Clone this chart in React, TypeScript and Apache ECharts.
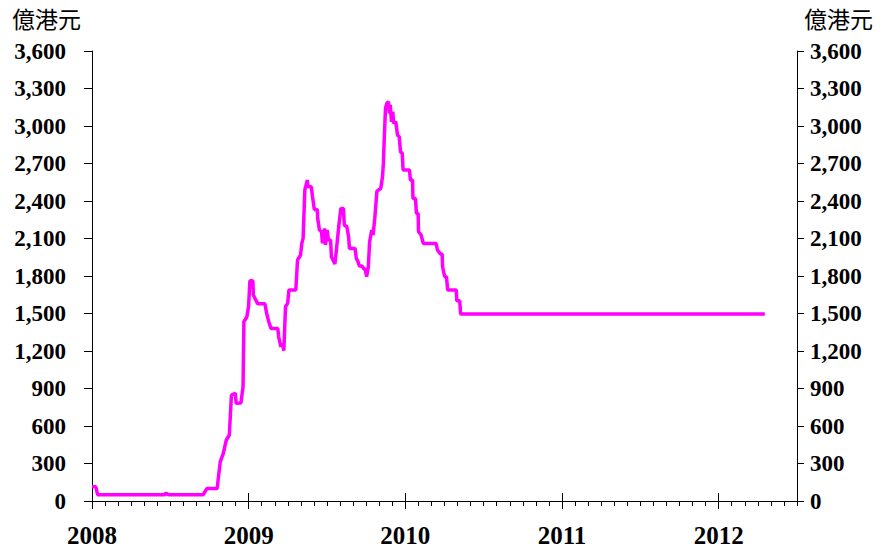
import React, { useEffect, useRef } from "react";
import * as echarts from "echarts";

// Aggregate balance (億港元)
const dates: string[] = [
  "2008-01-01", "2008-01-10", "2008-01-14", "2008-06-18", "2008-06-21", "2008-06-25", "2008-06-28",
  "2008-09-16", "2008-09-25", "2008-10-19", "2008-10-21", "2008-10-26", "2008-11-02", "2008-11-09",
  "2008-11-16", "2008-11-21", "2008-11-30", "2008-12-02", "2008-12-13", "2008-12-18", "2008-12-20",
  "2008-12-27", "2008-12-31", "2009-01-03", "2009-01-10", "2009-01-11", "2009-01-21", "2009-02-07",
  "2009-02-11", "2009-02-16", "2009-02-21", "2009-03-09", "2009-03-11", "2009-03-16", "2009-03-20",
  "2009-03-23", "2009-03-27", "2009-04-01", "2009-04-04", "2009-04-20", "2009-04-24", "2009-05-01",
  "2009-05-04", "2009-05-07", "2009-05-11", "2009-05-17", "2009-05-18", "2009-05-26", "2009-05-29",
  "2009-06-02", "2009-06-09", "2009-06-10", "2009-06-14", "2009-06-19", "2009-06-21", "2009-06-26",
  "2009-06-28", "2009-07-02", "2009-07-05", "2009-07-10", "2009-07-12", "2009-07-20", "2009-07-24",
  "2009-07-29", "2009-08-03", "2009-08-09", "2009-08-11", "2009-08-17", "2009-08-21", "2009-08-23",
  "2009-09-05", "2009-09-08", "2009-09-12", "2009-09-15", "2009-09-21", "2009-09-25", "2009-09-29",
  "2009-10-02", "2009-10-06", "2009-10-09", "2009-10-14", "2009-10-17", "2009-10-21", "2009-10-26",
  "2009-11-04", "2009-11-08", "2009-11-10", "2009-11-12", "2009-11-15", "2009-11-18", "2009-11-22",
  "2009-11-24", "2009-11-26", "2009-11-29", "2009-12-02", "2009-12-04", "2009-12-09", "2009-12-13",
  "2009-12-17", "2009-12-20", "2009-12-24", "2009-12-26", "2010-01-10", "2010-01-12", "2010-01-17",
  "2010-01-18", "2010-01-24", "2010-01-26", "2010-01-30", "2010-01-31", "2010-02-06", "2010-02-11",
  "2010-03-13", "2010-03-16", "2010-03-23", "2010-03-27", "2010-03-28", "2010-04-02", "2010-04-06",
  "2010-04-09", "2010-04-29", "2010-04-30", "2010-05-07", "2010-05-09", "2012-04-17",
];

const values: number[] = [
  114, 114, 50, 50, 62, 55, 50,
  50, 101, 101, 173, 315, 381, 488,
  528, 848, 862, 782, 784, 914, 1434,
  1474, 1560, 1762, 1762, 1648, 1578, 1578,
  1501, 1434, 1381, 1381, 1314, 1234, 1260,
  1202, 1554, 1581, 1688, 1688, 1928, 1968,
  2061, 2101, 2488, 2568, 2514, 2514, 2434,
  2333, 2333, 2261, 2168, 2154, 2061, 2181,
  2048, 2168, 2088, 2088, 1954, 1896, 2021,
  2194, 2341, 2341, 2208, 2194, 2114, 2021,
  2021, 1941, 1914, 1880, 1880, 1861, 1848,
  1794, 1874, 2074, 2168, 2128, 2261, 2478,
  2501, 2594, 2701, 2888, 3141, 3181, 3194,
  3101, 3168, 3034, 3114, 3021, 3034, 2928,
  2914, 2794, 2781, 2648, 2648, 2568, 2568,
  2421, 2421, 2301, 2301, 2154, 2128, 2061,
  2061, 2008, 1976, 1976, 1874, 1794, 1794,
  1688, 1688, 1602, 1602, 1496, 1496,
];

const yearLabels: string[] = ["2008", "2009", "2010", "2011", "2012"];
const monthCount = 54; // Jan 2008 .. Jul 2012
const unitLabel = "億港元";

const monthCats: string[] = Array.from({ length: monthCount + 1 }, (_, i) =>
  i % 12 === 0 ? yearLabels[i / 12] : ""
);

const FONT = "'Liberation Serif', 'Times New Roman', serif";

export default function App() {
  const ref = useRef<HTMLDivElement>(null);

  useEffect(() => {
    document.body.style.margin = "0";
    if (!ref.current) return;
    const chart = echarts.init(ref.current, undefined, { renderer: "svg" });

    const catAxisBase = {
      type: "category" as const,
      data: monthCats,
      boundaryGap: false,
      position: "bottom" as const,
      gridIndex: 0,
      axisLine: { show: false, onZero: false },
      splitLine: { show: false },
    };

    const yLabelStyle = {
      fontFamily: FONT,
      fontWeight: "bold" as const,
      fontSize: 23,
      color: "#000",
    };

    chart.setOption({
      animation: false,
      backgroundColor: "#fff",
      grid: {
        left: 92,
        right: 85,
        top: 51,
        bottom: 54,
        containLabel: false,
        outerBoundsMode: "none",
      },
      xAxis: [
        {
          type: "time",
          min: "2008-01-01",
          max: "2012-07-01",
          position: "bottom",
          axisLine: { show: true, onZero: false, lineStyle: { color: "#000", width: 1 } },
          axisTick: { show: false },
          axisLabel: { show: false },
          splitLine: { show: false },
        },
        {
          ...catAxisBase,
          axisTick: {
            show: true,
            interval: 0,
            length: 5,
            inside: false,
            lineStyle: { color: "#000", width: 1 },
          },
          axisLabel: { show: false },
        },
        {
          ...catAxisBase,
          axisTick: {
            show: true,
            interval: (i: number) => i % 12 === 0,
            length: 8,
            inside: false,
            lineStyle: { color: "#000", width: 1 },
          },
          axisLabel: {
            show: true,
            interval: (i: number) => i % 12 === 0,
            margin: 22,
            fontFamily: FONT,
            fontWeight: "bold",
            fontSize: 25,
            color: "#000",
          },
        },
        {
          ...catAxisBase,
          axisTick: {
            show: true,
            interval: (i: number) => i % 12 === 0,
            length: 8,
            inside: true,
            lineStyle: { color: "#000", width: 1 },
          },
          axisLabel: { show: false },
        },
      ],
      yAxis: [
        {
          type: "value",
          position: "left",
          min: 0,
          max: 3600,
          interval: 300,
          axisLine: { show: true, lineStyle: { color: "#000", width: 1 } },
          axisTick: { show: true, length: 8, lineStyle: { color: "#000", width: 1 } },
          axisLabel: {
            margin: 26,
            formatter: (v: number) => v.toLocaleString("en-US"),
            ...yLabelStyle,
          },
          splitLine: { show: false },
        },
        {
          type: "value",
          position: "right",
          min: 0,
          max: 3600,
          interval: 300,
          axisLine: { show: true, lineStyle: { color: "#000", width: 1 } },
          axisTick: { show: true, length: 7, lineStyle: { color: "#000", width: 1 } },
          axisLabel: {
            margin: 13,
            formatter: (v: number) => v.toLocaleString("en-US"),
            ...yLabelStyle,
          },
          splitLine: { show: false },
        },
      ],
      graphic: [
        {
          type: "text",
          left: 12,
          top: 6,
          style: {
            text: unitLabel,
            font: "23px 'Noto Sans CJK TC', sans-serif",
            fill: "#000",
          },
        },
        {
          type: "text",
          left: 804,
          top: 6,
          style: {
            text: unitLabel,
            font: "23px 'Noto Sans CJK TC', sans-serif",
            fill: "#000",
          },
        },
      ],
      series: [
        {
          type: "line",
          xAxisIndex: 0,
          yAxisIndex: 0,
          data: dates.map((d, i) => [d, values[i]]),
          showSymbol: false,
          symbol: "none",
          lineStyle: { color: "#ff00ff", width: 3.5 },
          itemStyle: { color: "#ff00ff" },
        },
      ],
    });

    return () => chart.dispose();
  }, []);

  return <div ref={ref} style={{ width: 882, height: 555 }} />;
}
